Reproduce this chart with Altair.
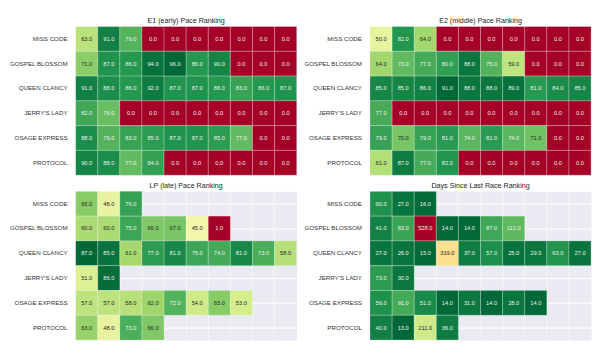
import altair as alt
import pandas as pd

FONT = "Liberation Sans"

horses = ["MISS CODE", "GOSPEL BLOSSOM", "QUEEN CLANCY", "JERRY'S LADY", "OSAGE EXPRESS", "PROTOCOL"]
races = list(range(10))

e1_pace = [
    [63, 91, 79, 0, 0, 0, 0, 0, 0, 0],
    [71, 87, 86, 94, 96, 86, 90, 0, 0, 0],
    [91, 88, 86, 92, 87, 87, 86, 83, 86, 87],
    [82, 76, 0, 0, 0, 0, 0, 0, 0, 0],
    [88, 79, 83, 85, 87, 87, 85, 77, 0, 0],
    [90, 88, 77, 84, 0, 0, 0, 0, 0, 0],
]
e2_pace = [
    [50, 82, 64, 0, 0, 0, 0, 0, 0, 0],
    [64, 73, 77, 80, 88, 75, 59, 0, 0, 0],
    [85, 85, 86, 91, 88, 88, 89, 81, 84, 85],
    [77, 0, 0, 0, 0, 0, 0, 0, 0, 0],
    [79, 70, 79, 81, 74, 81, 74, 71, 0, 0],
    [61, 87, 77, 82, 0, 0, 0, 0, 0, 0],
]
lp_pace = [
    [65, 48, 76],
    [60, 60, 75, 66, 67, 45, 1],
    [87, 85, 61, 77, 81, 75, 74, 81, 73, 58],
    [51, 86],
    [57, 57, 58, 62, 72, 54, 65, 53],
    [63, 48, 73, 66],
]
days_since = [
    [60, 27, 16],
    [41, 83, 528, 14, 14, 87, 112],
    [27, 26, 15, 319, 37, 57, 25, 29, 63, 27],
    [73, 30],
    [59, 91, 51, 14, 31, 14, 28, 14],
    [40, 13, 211, 36],
]


def panel(title, rows, reverse, axis_extent):
    recs = [
        {"horse": h, "race": i, "value": v}
        for h, r in zip(horses, rows)
        for i, v in enumerate(r)
    ]
    df = pd.DataFrame(recs)
    lo, hi = float(df["value"].min()), float(df["value"].max())
    t = f"((datum.value - {lo}) / {hi - lo})"
    p_expr = f"1 - {t}" if reverse else t

    base = alt.Chart(df).encode(
        x=alt.X(
            "race:O",
            scale=alt.Scale(domain=races, paddingInner=0, paddingOuter=0),
            axis=alt.Axis(
                labels=False, ticks=False, domain=False, title=None,
                grid=True, gridColor="white", gridOpacity=0.6, gridWidth=0.8,
                bandPosition=0, minExtent=0, maxExtent=0, zindex=0,
            ),
        ),
        y=alt.Y(
            "horse:N",
            sort=horses,
            scale=alt.Scale(domain=horses, paddingInner=0, paddingOuter=0),
            axis=alt.Axis(
                title=None, ticks=False, domain=False,
                labelFont=FONT, labelFontSize=6.5, labelColor="#333333",
                labelPadding=9, labelLimit=120,
                grid=True, gridColor="white", gridWidth=1.2, bandPosition=0.5,
                minExtent=axis_extent, maxExtent=axis_extent, zindex=0,
            ),
        ),
    )
    rect = base.mark_rect(stroke="white", strokeWidth=0.5, strokeOpacity=0.5).encode(
        color=alt.Color(
            "value:Q",
            scale=alt.Scale(scheme="redyellowgreen", domain=[lo, hi], reverse=reverse),
            legend=None,
        )
    )
    text = base.transform_calculate(p=p_expr).mark_text(font=FONT, fontSize=6).encode(
        text=alt.Text("value:Q", format=".1f"),
        color=alt.condition(
            "datum.p > 0.25 && datum.p < 0.79",
            alt.value("#262626"),
            alt.value("#f0f0f0"),
        ),
    )
    return alt.layer(rect, text).properties(
        width=232,
        height=156,
        title=alt.TitleParams(
            title, font=FONT, fontSize=7.5, fontWeight="normal", color="#262626",
            offset=2, anchor="middle", frame="group",
        ),
    )


top = alt.hconcat(
    panel("E1 (early) Pace Ranking", e1_pace, False, 58),
    panel("E2 (middle) Pace Ranking", e2_pace, False, 59),
    spacing=5,
).resolve_scale(color="independent")
bottom = alt.hconcat(
    panel("LP (late) Pace Ranking", lp_pace, False, 58),
    panel("Days Since Last Race Ranking", days_since, True, 59),
    spacing=5,
).resolve_scale(color="independent")
chart = (
    alt.vconcat(top, bottom, spacing=5)
    .resolve_scale(color="independent")
    .properties(padding={"left": 0, "top": 0, "right": 0, "bottom": 0})
    .configure(padding=0)
    .configure_view(stroke="transparent", fill="#EAEAF2")
)

chart.save("out.html", embed_options={"renderer": "svg", "actions": False})
